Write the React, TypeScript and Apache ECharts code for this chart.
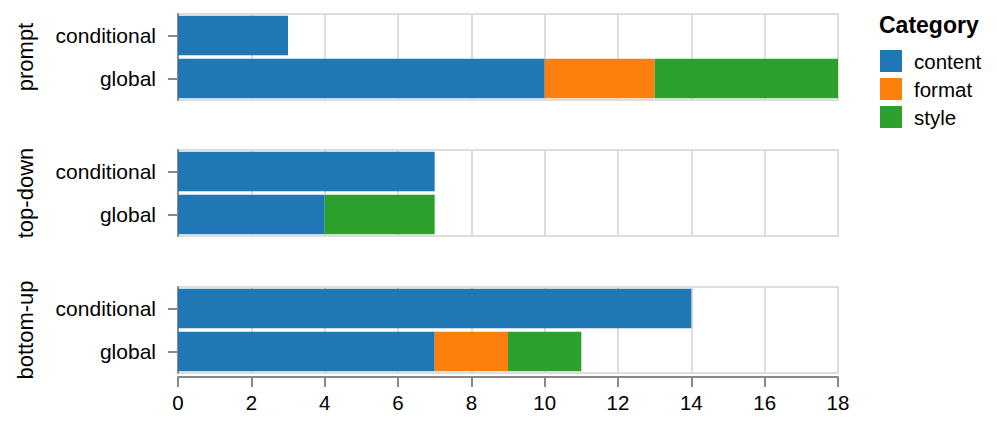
import React, { useEffect, useRef } from "react";
import * as echarts from "echarts";

const panels = ["prompt", "top-down", "bottom-up"];
const rows = ["conditional", "global"];
const categories = ["content", "format", "style"];
const colors = ["#1f77b4", "#ff7f0e", "#2ca02c"];
// values per panel: [conditional, global]
const contentVals = [[3, 10], [7, 4], [14, 7]];
const formatVals = [[null, 3], [null, null], [null, 2]];
const styleVals = [[null, 5], [null, 3], [null, 2]];
const xTicks = [0, 2, 4, 6, 8, 10, 12, 14, 16, 18];

const FONT = "'Liberation Sans', Arial, sans-serif";

export default function App() {
  const ref = useRef<HTMLDivElement>(null);
  useEffect(() => {
    if (!ref.current) return;
    const chart = echarts.init(ref.current, null, { renderer: "svg" });
    const tops = [14, 150, 287];
    const H = 86;
    const LEFT = 178;
    const W = 660;
    const valsByCat = [contentVals, formatVals, styleVals];

    const grid = tops.map((t) => ({
      left: LEFT,
      top: t,
      width: W,
      height: H,
      show: true,
      borderColor: "#ddd",
      borderWidth: 2,
      backgroundColor: "transparent",
    }));

    const xAxis = tops.map((_, i) => ({
      type: "value",
      gridIndex: i,
      min: 0,
      max: 18,
      interval: 2,
      offset: i === 2 ? 4 : 0,
      axisLine: { show: i === 2, lineStyle: { color: "#888", width: 2 } },
      axisTick: { show: i === 2, length: 10, lineStyle: { color: "#888", width: 2 } },
      axisLabel: {
        show: i === 2,
        color: "#000",
        fontSize: 20.5,
        fontFamily: FONT,
        margin: 15,
        formatter: (v: number) => (xTicks.includes(v) ? String(v) : ""),
      },
      splitLine: { show: true, lineStyle: { color: "#ddd", width: 2 } },
    }));

    const yAxis = tops.map((_, i) => ({
      type: "category",
      gridIndex: i,
      data: rows,
      inverse: true,
      axisLine: { show: true, lineStyle: { color: "#888", width: 2 } },
      axisTick: { show: true, length: 10, alignWithLabel: true, lineStyle: { color: "#888", width: 2 } },
      axisLabel: { color: "#000", fontSize: 21, fontFamily: FONT, margin: 22 },
      splitLine: { show: false },
    }));

    const series: any[] = [];
    panels.forEach((p, pi) => {
      categories.forEach((c, ci) => {
        series.push({
          type: "bar",
          name: c,
          xAxisIndex: pi,
          yAxisIndex: pi,
          stack: "s" + pi,
          barCategoryGap: "8%",
          itemStyle: { color: colors[ci] },
          data: valsByCat[ci][pi],
        });
      });
    });

    const graphic: any[] = panels.map((p, i) => ({
      type: "text",
      x: 25,
      y: tops[i] + H / 2,
      rotation: Math.PI / 2,
      style: {
        text: p,
        fontSize: 22,
        fontFamily: FONT,
        fill: "#000",
        align: "center",
        verticalAlign: "middle",
      },
    }));
    graphic.push({
      type: "text",
      left: 879,
      top: 13,
      style: {
        text: "Category",
        fontSize: 23,
        fontWeight: "bold",
        fontFamily: FONT,
        fill: "#000",
      },
    });

    chart.setOption({
      animation: false,
      grid,
      xAxis,
      yAxis,
      series,
      graphic,
      legend: {
        data: categories,
        orient: "vertical",
        left: 880,
        top: 50,
        padding: 0,
        itemWidth: 22,
        itemHeight: 22,
        itemGap: 6,
        icon: "rect",
        selectedMode: false,
        textStyle: {
          fontSize: 20.5,
          fontFamily: FONT,
          color: "#000",
          padding: [0, 0, 0, 7],
        },
      },
    });
    return () => chart.dispose();
  }, []);
  return (
    <div
      ref={ref}
      style={{ position: "absolute", left: 0, top: 0, width: 997, height: 424 }}
    />
  );
}
